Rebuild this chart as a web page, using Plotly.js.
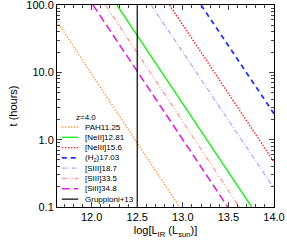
<!DOCTYPE html>
<html><head><meta charset="utf-8">
<script src="https://cdn.plot.ly/plotly-3.0.1.min.js"></script>
<style>html,body{margin:0;padding:0;background:#fff}#c{width:287px;height:243px}</style>
</head><body><div id="c"></div>
<script>
// Data (log L_IR endpoints, exposure time t in hours)
const names = ["PAH11.25","[NeII]12.81","[NeIII]15.6","(H<sub>2</sub>)17.03","[SIII]18.7","[SIII]33.5","[SiII]34.8","Gruppioni+13"];
const xPAH = [11.62, 12.963];   const tPAH = [57, 0.1];
const xNeII = [12.277, 13.755]; const tNeII = [100, 0.1];
const xNeIII = [12.854, 14.0];  const tNeIII = [100, 0.466];
const xH2 = [13.20, 14.0];      const tH2 = [100, 2.43];
const xSIII18 = [12.653, 14.0]; const tSIII18 = [100, 0.19];
const xSIII33 = [12.153, 13.62];const tSIII33 = [100, 0.1];
const xSiII = [12.015, 13.493]; const tSiII = [100, 0.1];
const xGrup = [12.5, 12.5];     const tGrup = [0.1, 100];
const yTickVals = [0.1, 1, 10, 100];
const yTickText = ["0.1", "1.0", "10.0", "100.0"];
const redshiftLabel = "z=4.0";

const styles = [
  {color:"#ff9944", dash:"1.5px,1.5px", width:1.3},
  {color:"#22ee22", dash:"solid", width:1.4},
  {color:"#ff2222", dash:"1.5px,1.5px", width:1.4},
  {color:"#2233ff", dash:"5px,4px", width:1.8},
  {color:"#aab0ff", dash:"5px,2px,1px,2px", width:1.3},
  {color:"#ff9a9a", dash:"5px,2px,1px,2px,1px,2px", width:1.3},
  {color:"#dd22dd", dash:"8px,4px", width:1.6},
  {color:"#000000", dash:"solid", width:1.2}
];
const xs = [xPAH,xNeII,xNeIII,xH2,xSIII18,xSIII33,xSiII,xGrup];
const ts = [tPAH,tNeII,tNeIII,tH2,tSIII18,tSIII33,tSiII,tGrup];

const traces = xs.map((x,i)=>({x:x, y:ts[i], mode:"lines", name:names[i], showlegend:false,
  line:{color:styles[i].color, dash:styles[i].dash, width:styles[i].width}, hoverinfo:"skip"}));

// Custom compact legend (paper coordinates)
const shapes = [], annotations = [];
const y0 = 0.396, dy = 0.051;
annotations.push({xref:"paper", yref:"paper", x:0.08, y:y0+dy*0.95, text:redshiftLabel, showarrow:false,
  xanchor:"left", yanchor:"middle", font:{size:8, color:"#000"}});
names.forEach((n,i)=>{
  const yy = y0 - i*dy;
  shapes.push({type:"line", xref:"paper", yref:"paper", x0:0.022, x1:0.098, y0:yy, y1:yy,
    line:{color:styles[i].color, dash:styles[i].dash, width:styles[i].width}});
  annotations.push({xref:"paper", yref:"paper", x:0.118, y:yy, text:n, showarrow:false,
    xanchor:"left", yanchor:"middle", font:{size:8, color:"#000"}});
});

const minorY = [];
[0.1,1,10].forEach(d=>{for(let k=2;k<=9;k++) minorY.push(d*k);});

const layout = {
  width:287, height:243,
  margin:{l:57, r:13, t:5, b:36},
  paper_bgcolor:"#fff", plot_bgcolor:"#fff",
  font:{family:"Liberation Sans, Arial, sans-serif", size:11, color:"#000"},
  showlegend:false,
  xaxis:{range:[11.62,14.0], tick0:12, dtick:0.5, tickformat:".1f", ticks:"inside", ticklen:5,
    ticklabeloverflow:"allow",
    showline:true, mirror:"ticks", linecolor:"#000", linewidth:1, showgrid:false, zeroline:false,
    minor:{dtick:0.1, ticks:"inside", ticklen:3, showgrid:false},
    title:{text:"log[L<sub>IR</sub> (L<sub>sun</sub>)]", font:{size:11}, standoff:4}},
  yaxis:{type:"log", range:[-1.0002,2.0002], tickmode:"array", tickvals:yTickVals, ticktext:yTickText,
    ticklabeloverflow:"allow",
    ticks:"inside", ticklen:5, showline:true, mirror:"ticks", linecolor:"#000", linewidth:1,
    showgrid:false, zeroline:false,
    minor:{tickmode:"array", tickvals:minorY, ticks:"inside", ticklen:3, showgrid:false},
    title:{text:"t (hours)", font:{size:11}, standoff:6}},
  shapes:shapes, annotations:annotations
};
Plotly.newPlot("c", traces, layout, {staticPlot:true, displayModeBar:false});
</script></body></html>
